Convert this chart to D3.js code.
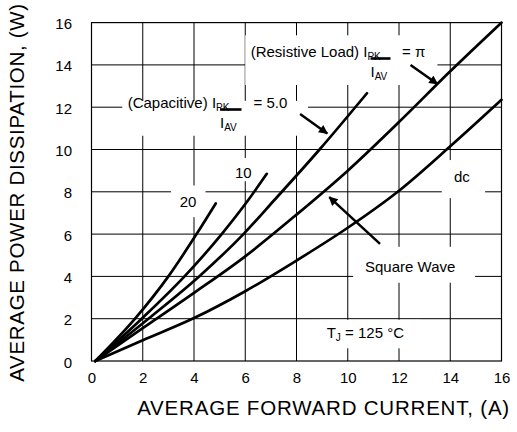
<!DOCTYPE html>
<html><head><meta charset="utf-8">
<script src="https://cdn.jsdelivr.net/npm/d3@7"></script>
<style>
body{margin:0;background:#fff;}
svg text{font-family:"Liberation Sans",Arial,sans-serif;fill:#000;}
</style></head>
<body><svg id="c" width="517" height="432"></svg>
<script>
// ---- data ----
const xTicks = [0,2,4,6,8,10,12,14,16];
const yTicks = [0,2,4,6,8,10,12,14,16];
const xTitle = "AVERAGE FORWARD CURRENT, (A)";
const yTitle = "AVERAGE POWER DISSIPATION, (W)";
const curve20 = [[0.15,0],[1.7,2],[3.0,4],[4.1,6],[4.85,7.45]];
const curve10 = [[0.15,0],[1.96,2],[3.63,4],[5.08,6],[6.11,7.6],[6.84,8.85]];
const curve5  = [[0.15,0],[2.22,2],[4.2,4],[5.93,6],[7.13,7.6],[8.9,10],[10.75,12.66]];
const curvePi = [[0.15,0],[2,1.55],[4,3.22],[6,4.95],[8,6.92],[10,9.0],[12,11.3],[14,13.7],[16,16]];
const curveDC = [[0.15,0],[2,0.98],[4,2.03],[6,3.3],[8,4.75],[10,6.3],[12,8.05],[14,10.15],[16,12.35]];
const curves = [curve20, curve10, curve5, curvePi, curveDC];

// ---- layout ----
const svg = d3.select("#c");
const L=91.5, R=501.5, T=22.6, B=361;
const x = d3.scaleLinear().domain([0,16]).range([L,R]);
const y = d3.scaleLinear().domain([0,16]).range([B,T]);

// grid
const g = svg.append("g");
g.selectAll("line.v").data(xTicks.slice(1,-1)).join("line")
  .attr("x1",d=>x(d)).attr("x2",d=>x(d)).attr("y1",T).attr("y2",B)
  .attr("stroke","#000").attr("stroke-width",1);
g.selectAll("line.h").data(yTicks.slice(1,-1)).join("line")
  .attr("y1",d=>y(d)).attr("y2",d=>y(d)).attr("x1",L).attr("x2",R)
  .attr("stroke","#000").attr("stroke-width",1);

// white label boxes (in data units)
const boxes = [
  [1.2,12.3,8.45,10.65],   // capacitive
  [6.0,15.4,13.5,13.05],   // resistive
  [5.45,9.6,6.45,8.5],     // 10
  [3.1,8.3,4.45,6.8],      // 20
  [13.67,9.5,15.36,7.7],   // dc
  [10.21,5.4,14.97,3.7],   // square wave
  [8.9,1.95,12.8,0.6]      // Tj
];
svg.selectAll("rect.box").data(boxes).join("rect")
  .attr("x",d=>x(d[0])).attr("y",d=>y(d[1]))
  .attr("width",d=>x(d[2])-x(d[0])).attr("height",d=>y(d[3])-y(d[1]))
  .attr("fill","#fff");

// frame
svg.append("rect").attr("x",L).attr("y",T).attr("width",R-L).attr("height",B-T)
  .attr("fill","none").attr("stroke","#000").attr("stroke-width",1.2);

// axes tick labels
const xa = d3.axisBottom(x).tickValues(xTicks).tickSize(0).tickPadding(0);
const ax = svg.append("g").attr("transform",`translate(0,${B})`).call(xa);
ax.select(".domain").remove();
ax.selectAll("text").attr("y",22.3).attr("dy",0).attr("font-size",15)
  .style("font-family","'Liberation Sans',Arial,sans-serif");
const ya = d3.axisLeft(y).tickValues(yTicks).tickSize(0).tickPadding(0);
const ay = svg.append("g").attr("transform",`translate(72,0)`).call(ya);
ay.select(".domain").remove();
ay.selectAll("text").attr("x",0).attr("dy","0.4em").attr("font-size",15)
  .style("font-family","'Liberation Sans',Arial,sans-serif");

svg.append("text").attr("x",510).attr("y",415).attr("text-anchor","end")
  .attr("font-size",20.5).attr("letter-spacing",0.8).text(xTitle);
svg.append("text").attr("transform","translate(24,192.5) rotate(-90)")
  .attr("text-anchor","middle").attr("font-size",20.5).attr("letter-spacing",0.7).text(yTitle);

// curves
const line = d3.line().x(d=>x(d[0])).y(d=>y(d[1])).curve(d3.curveMonotoneX);
svg.selectAll("path.c").data(curves).join("path")
  .attr("d",line).attr("fill","none").attr("stroke","#000")
  .attr("stroke-width",2.7).attr("stroke-linecap","round");

// arrows (data coords: from -> to)
const arrows = [
  [[8.14,11.68],[9.2,10.76]],
  [[12.45,14.0],[13.5,13.1]],
  [[11.26,5.54],[9.28,7.75]]
];
svg.append("defs").append("marker").attr("id","ah").attr("viewBox","0 0 10 10")
  .attr("refX",9).attr("refY",5).attr("markerWidth",4.2).attr("markerHeight",3.6)
  .attr("markerUnits","strokeWidth").attr("orient","auto")
  .append("path").attr("d","M0,0 L10,5 L0,10 z").attr("fill","#000");
svg.selectAll("line.arr").data(arrows).join("line")
  .attr("x1",d=>x(d[0][0])).attr("y1",d=>y(d[0][1]))
  .attr("x2",d=>x(d[1][0])).attr("y2",d=>y(d[1][1]))
  .attr("stroke","#000").attr("stroke-width",2.5).attr("marker-end","url(#ah)");

// labels
function label(px,py,parts){
  const t = svg.append("text").attr("x",px).attr("y",py).attr("font-size",15);
  parts.forEach(p=>{
    const s=t.append("tspan").text(p.t);
    if(p.sub){s.attr("font-size",10).attr("dy",3);}
    else if(p.back){s.attr("dy",-3);}
  });
  return t;
}
label(127.7,108.3,[{t:"(Capacitive) I"},{t:"PK",sub:true}]);
label(253.5,107.5,[{t:"= 5.0"}]);
label(220,127.7,[{t:"I"},{t:"AV",sub:true}]);
svg.append("line").attr("x1",220).attr("x2",241.5).attr("y1",109.5).attr("y2",109.5)
  .attr("stroke","#000").attr("stroke-width",2.6);

label(250.7,56.7,[{t:"(Resistive Load) I"},{t:"PK",sub:true}]);
label(402,56.7,[{t:"= π"}]);
label(370.5,76.7,[{t:"I"},{t:"AV",sub:true}]);
svg.append("line").attr("x1",370.5).attr("x2",390.5).attr("y1",58.5).attr("y2",58.5)
  .attr("stroke","#000").attr("stroke-width",2.6);

label(235,178.3,[{t:"10"}]);
label(179.7,207,[{t:"20"}]);
label(454,181.7,[{t:"dc"}]);
label(365,271.7,[{t:"Square Wave"}]);
label(326.7,338.3,[{t:"T"},{t:"J",sub:true},{t:" = 125 °C",back:true}]);
</script></body></html>
